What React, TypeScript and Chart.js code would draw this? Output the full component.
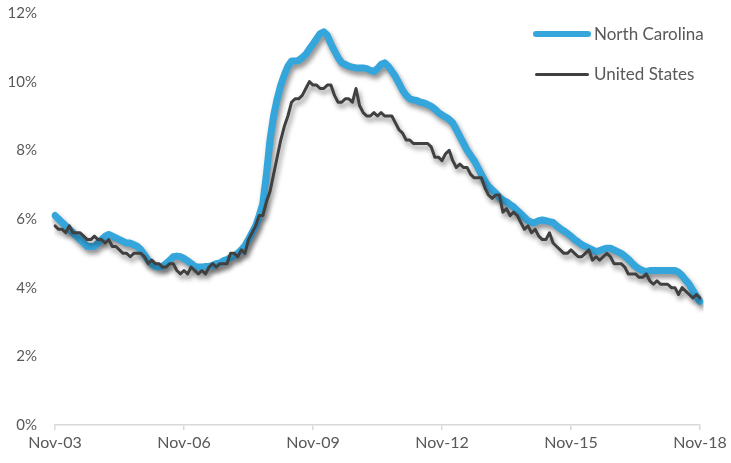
import React, { useEffect, useRef } from "react";
import { Chart, registerables } from "chart.js";

Chart.register(...registerables);

const MONTH_NAMES = ["Jan", "Feb", "Mar", "Apr", "May", "Jun", "Jul", "Aug", "Sep", "Oct", "Nov", "Dec"];
const START_YEAR = 2003;
const START_MONTH = 10; // November (0-based)
const MONTH_COUNT = 181;

const LABELS: string[] = [];
for (let k = 0; k < MONTH_COUNT; k++) {
  const m = (START_MONTH + k) % 12;
  const y = (START_YEAR + Math.floor((START_MONTH + k) / 12)) % 100;
  LABELS.push(`${MONTH_NAMES[m]}-${String(y).padStart(2, "0")}`);
}

const NC_2003 = [6.1, 6.0];
const NC_2004 = [5.9, 5.8, 5.7, 5.6, 5.5, 5.4, 5.3, 5.2, 5.2, 5.2, 5.3, 5.4];
const NC_2005 = [5.5, 5.55, 5.5, 5.45, 5.4, 5.35, 5.3, 5.3, 5.25, 5.2, 5.1, 4.95];
const NC_2006 = [4.8, 4.7, 4.62, 4.6, 4.62, 4.7, 4.8, 4.9, 4.92, 4.9, 4.85, 4.78];
const NC_2007 = [4.7, 4.62, 4.6, 4.6, 4.62, 4.62, 4.65, 4.7, 4.72, 4.78, 4.82, 4.88];
const NC_2008 = [4.92, 5.0, 5.1, 5.22, 5.4, 5.6, 5.8, 6.1, 6.45, 7.3, 8.3, 9.0];
const NC_2009 = [9.5, 9.9, 10.2, 10.45, 10.6, 10.6, 10.62, 10.7, 10.8, 10.95, 11.1, 11.25];
const NC_2010 = [11.4, 11.45, 11.35, 11.1, 10.9, 10.7, 10.55, 10.5, 10.45, 10.42, 10.4, 10.4];
const NC_2011 = [10.4, 10.38, 10.33, 10.3, 10.38, 10.5, 10.55, 10.45, 10.3, 10.15, 9.95, 9.75];
const NC_2012 = [9.6, 9.5, 9.47, 9.45, 9.4, 9.38, 9.33, 9.28, 9.2, 9.1, 9.03, 8.97];
const NC_2013 = [8.9, 8.8, 8.6, 8.4, 8.2, 8.0, 7.85, 7.7, 7.5, 7.3, 7.1, 6.95];
const NC_2014 = [6.85, 6.75, 6.64, 6.55, 6.5, 6.42, 6.35, 6.25, 6.15, 6.05, 5.95, 5.9];
const NC_2015 = [5.9, 5.95, 5.97, 5.95, 5.92, 5.9, 5.8, 5.72, 5.65, 5.58, 5.5, 5.4];
const NC_2016 = [5.33, 5.25, 5.2, 5.15, 5.1, 5.05, 5.08, 5.12, 5.15, 5.15, 5.1, 5.05];
const NC_2017 = [5.0, 4.92, 4.83, 4.72, 4.62, 4.55, 4.5, 4.47, 4.5, 4.5, 4.5, 4.5];
const NC_2018 = [4.5, 4.5, 4.5, 4.5, 4.45, 4.35, 4.22, 4.1, 3.92, 3.75, 3.6];

const US_2003 = [5.8, 5.7];
const US_2004 = [5.7, 5.6, 5.8, 5.6, 5.6, 5.6, 5.5, 5.4, 5.4, 5.5, 5.4, 5.4];
const US_2005 = [5.3, 5.4, 5.2, 5.2, 5.1, 5.0, 5.0, 4.9, 5.0, 5.0, 5.0, 4.9];
const US_2006 = [4.7, 4.8, 4.7, 4.7, 4.6, 4.6, 4.7, 4.7, 4.5, 4.4, 4.5, 4.4];
const US_2007 = [4.6, 4.5, 4.4, 4.5, 4.4, 4.6, 4.7, 4.6, 4.7, 4.7, 4.7, 5.0];
const US_2008 = [5.0, 4.9, 5.1, 5.0, 5.4, 5.6, 5.8, 6.1, 6.1, 6.5, 6.8, 7.3];
const US_2009 = [7.8, 8.3, 8.7, 9.0, 9.4, 9.5, 9.5, 9.6, 9.8, 10.0, 9.9, 9.9];
const US_2010 = [9.8, 9.8, 9.9, 9.9, 9.6, 9.4, 9.4, 9.5, 9.5, 9.4, 9.8, 9.3];
const US_2011 = [9.1, 9.0, 9.0, 9.1, 9.0, 9.1, 9.0, 9.0, 9.0, 8.8, 8.6, 8.5];
const US_2012 = [8.3, 8.3, 8.2, 8.2, 8.2, 8.2, 8.2, 8.1, 7.8, 7.8, 7.7, 7.9];
const US_2013 = [8.0, 7.7, 7.5, 7.6, 7.5, 7.5, 7.3, 7.2, 7.2, 7.2, 6.9, 6.7];
const US_2014 = [6.6, 6.7, 6.7, 6.2, 6.3, 6.1, 6.2, 6.1, 5.9, 5.7, 5.8, 5.6];
const US_2015 = [5.7, 5.5, 5.4, 5.4, 5.6, 5.3, 5.2, 5.1, 5.0, 5.0, 5.1, 5.0];
const US_2016 = [4.9, 4.9, 5.0, 5.1, 4.8, 4.9, 4.8, 4.9, 5.0, 4.9, 4.7, 4.7];
const US_2017 = [4.7, 4.6, 4.4, 4.4, 4.4, 4.3, 4.3, 4.4, 4.2, 4.1, 4.2, 4.1];
const US_2018 = [4.1, 4.1, 4.0, 4.0, 3.8, 4.0, 3.9, 3.8, 3.7, 3.8, 3.7];

const NORTH_CAROLINA = [
  ...NC_2003, ...NC_2004, ...NC_2005, ...NC_2006, ...NC_2007, ...NC_2008, ...NC_2009, ...NC_2010,
  ...NC_2011, ...NC_2012, ...NC_2013, ...NC_2014, ...NC_2015, ...NC_2016, ...NC_2017, ...NC_2018,
];
const UNITED_STATES = [
  ...US_2003, ...US_2004, ...US_2005, ...US_2006, ...US_2007, ...US_2008, ...US_2009, ...US_2010,
  ...US_2011, ...US_2012, ...US_2013, ...US_2014, ...US_2015, ...US_2016, ...US_2017, ...US_2018,
];

const Y_TICKS = [0, 2, 4, 6, 8, 10, 12];
const TICK_EVERY = 36;

const NC_COLOR = "#34A6DC";
const US_COLOR = "#404040";
const TEXT_COLOR = "#595959";
const FONT = "Lato, 'Open Sans', sans-serif";

const shadowPlugin = {
  id: "lineShadow",
  beforeDatasetDraw(chart: any) {
    const ctx = chart.ctx;
    ctx.save();
    ctx.shadowColor = "rgba(0,0,0,0.45)";
    ctx.shadowBlur = 5;
    ctx.shadowOffsetX = 2;
    ctx.shadowOffsetY = 4;
  },
  afterDatasetDraw(chart: any) {
    chart.ctx.restore();
  },
};

export default function App() {
  const canvasRef = useRef<HTMLCanvasElement | null>(null);

  useEffect(() => {
    document.body.style.margin = "0";
    const canvas = canvasRef.current;
    if (!canvas) return;
    const chart = new Chart(canvas, {
      type: "line",
      data: {
        labels: LABELS,
        datasets: [
          {
            label: "North Carolina",
            data: NORTH_CAROLINA,
            borderColor: NC_COLOR,
            backgroundColor: NC_COLOR,
            borderWidth: 7,
            pointRadius: 0,
            tension: 0,
            borderJoinStyle: "round",
            borderCapStyle: "round",
            order: 2,
          },
          {
            label: "United States",
            data: UNITED_STATES,
            borderColor: US_COLOR,
            backgroundColor: US_COLOR,
            borderWidth: 3,
            pointRadius: 0,
            tension: 0,
            borderJoinStyle: "round",
            borderCapStyle: "round",
            order: 1,
          },
        ],
      },
      plugins: [shadowPlugin],
      options: {
        animation: false,
        responsive: false,
        devicePixelRatio: 1,
        layout: { padding: { left: 0, right: 31, top: 13, bottom: 0 } },
        plugins: {
          legend: { display: false },
          tooltip: { enabled: false },
        },
        scales: {
          x: {
            type: "category",
            offset: false,
            afterFit(scale: any) {
              scale.height = 38;
            },
            border: { display: true, color: "#D9D9D9", width: 1.5 },
            grid: {
              display: true,
              drawOnChartArea: false,
              drawTicks: true,
              tickLength: 5,
              color: "#D9D9D9",
              lineWidth: 1.5,
            },
            ticks: {
              autoSkip: false,
              maxRotation: 0,
              minRotation: 0,
              padding: 3,
              color: TEXT_COLOR,
              font: { family: FONT, size: 16 },
              callback(this: any, value: any, index: number) {
                return index % TICK_EVERY === 0 ? this.getLabelForValue(value) : null;
              },
            },
          },
          y: {
            min: Y_TICKS[0],
            max: Y_TICKS[Y_TICKS.length - 1],
            afterFit(scale: any) {
              scale.width = 55;
            },
            afterBuildTicks(scale: any) {
              scale.ticks = Y_TICKS.map((v) => ({ value: v }));
            },
            border: { display: false },
            grid: {
              display: true,
              drawOnChartArea: false,
              drawTicks: true,
              tickLength: 18,
              color: "rgba(0,0,0,0)",
            },
            ticks: {
              padding: 0,
              color: TEXT_COLOR,
              font: { family: FONT, size: 15 },
              callback: (v: any) => `${v}%`,
            },
          },
        },
      },
    });
    return () => chart.destroy();
  }, []);

  const legendText: React.CSSProperties = {
    position: "absolute",
    left: 594,
    fontFamily: FONT,
    fontSize: 17,
    color: TEXT_COLOR,
    lineHeight: "20px",
    whiteSpace: "nowrap",
  };

  return (
    <div style={{ position: "relative", width: 731, height: 463, background: "#fff" }}>
      <canvas ref={canvasRef} width={731} height={463} style={{ display: "block" }} />
      <div style={{ position: "absolute", left: 533, top: 31, width: 58, height: 6, borderRadius: 3, background: NC_COLOR }} />
      <div style={{ ...legendText, top: 24 }}>North Carolina</div>
      <div style={{ position: "absolute", left: 535, top: 72.5, width: 54, height: 3, borderRadius: 1.5, background: US_COLOR }} />
      <div style={{ ...legendText, top: 64 }}>United States</div>
    </div>
  );
}
